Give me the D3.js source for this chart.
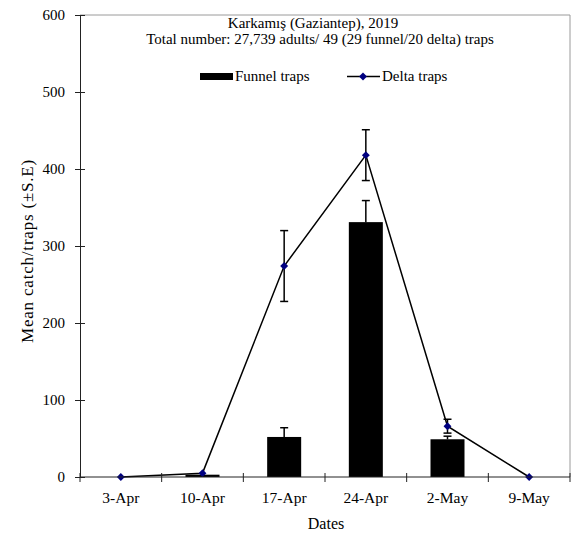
<!DOCTYPE html>
<html>
<head>
<meta charset="utf-8">
<script src="https://cdn.jsdelivr.net/npm/d3@7/dist/d3.min.js"></script>
<style>
  body { margin: 0; background: #fff; }
  svg text { font-family: 'Liberation Serif', 'Times New Roman', serif; fill: #000; }
</style>
</head>
<body>
<svg id="chart" width="571" height="535"></svg>
<script>
const dates = ['3-Apr', '10-Apr', '17-Apr', '24-Apr', '2-May', '9-May'];
const funnelMean = [0, 3, 52, 331, 49, 0];
const funnelSE = [0, 0, 12, 28, 4, 0];
const deltaMean = [0, 5, 274, 418, 66, 0];
const deltaSE = [0, 0, 46, 33, 9, 0];
const yTicks = [0, 100, 200, 300, 400, 500, 600];

const dim = { l: 80, r: 570, t: 15, b: 477 };

const svg = d3.select('#chart');

const x = d3.scaleBand().domain(dates).range([dim.l, dim.r]).padding(0);
const y = d3.scaleLinear().domain([0, 600]).range([dim.b, dim.t]);
const cx = (d) => x(d) + x.bandwidth() / 2;
const barW = 34;

// frame (top + right)
svg.append('path')
  .attr('d', `M${dim.l},${dim.t}H${dim.r}V${dim.b}`)
  .attr('fill', 'none')
  .attr('stroke', '#9a9a9a')
  .attr('stroke-width', 1);

// bars
svg.append('g')
  .selectAll('rect')
  .data(dates)
  .join('rect')
  .attr('x', (d) => cx(d) - barW / 2)
  .attr('width', barW)
  .attr('y', (d, i) => y(funnelMean[i]))
  .attr('height', (d, i) => y(0) - y(funnelMean[i]))
  .attr('fill', '#000');

// funnel error bars (upper only)
const fErr = svg.append('g').attr('stroke', '#000').attr('stroke-width', 1.5);
dates.forEach((d, i) => {
  if (!funnelSE[i]) return;
  const top = y(funnelMean[i] + funnelSE[i]);
  fErr.append('line').attr('x1', cx(d)).attr('x2', cx(d))
    .attr('y1', y(funnelMean[i])).attr('y2', top);
  fErr.append('line').attr('x1', cx(d) - 4).attr('x2', cx(d) + 4)
    .attr('y1', top).attr('y2', top);
});

// delta error bars
const dErr = svg.append('g').attr('stroke', '#000').attr('stroke-width', 1.5);
dates.forEach((d, i) => {
  if (!deltaSE[i]) return;
  const top = y(deltaMean[i] + deltaSE[i]);
  const bot = y(deltaMean[i] - deltaSE[i]);
  dErr.append('line').attr('x1', cx(d)).attr('x2', cx(d)).attr('y1', bot).attr('y2', top);
  [top, bot].forEach((v) => {
    dErr.append('line').attr('x1', cx(d) - 4).attr('x2', cx(d) + 4).attr('y1', v).attr('y2', v);
  });
});

// delta line
const lineGen = d3.line()
  .x((d) => cx(d.date))
  .y((d) => y(d.v));
const deltaData = dates.map((d, i) => ({ date: d, v: deltaMean[i] }));

svg.append('path')
  .attr('d', lineGen(deltaData))
  .attr('fill', 'none')
  .attr('stroke', '#000')
  .attr('stroke-width', 1.5);

const diamond = d3.symbol().type(d3.symbolDiamond2).size(40);
svg.append('g')
  .selectAll('path')
  .data(deltaData)
  .join('path')
  .attr('d', diamond)
  .attr('transform', (d) => `translate(${cx(d.date)},${y(d.v)})`)
  .attr('fill', '#000080');

// axes
const yAxis = svg.append('g')
  .attr('transform', `translate(${dim.l},0)`)
  .call(d3.axisLeft(y).tickValues(yTicks).tickSize(5).tickPadding(10));
yAxis.select('.domain').attr('stroke', '#222');
yAxis.selectAll('line').attr('x1', -5).attr('x2', 5).attr('stroke', '#222');
yAxis.selectAll('text').style('font-size', '15px');

const xAxis = svg.append('g')
  .attr('transform', `translate(0,${dim.b})`)
  .call(d3.axisBottom(x).tickSize(0).tickPadding(15));
xAxis.select('.domain').attr('d', `M${dim.l},0H${dim.r}`).attr('stroke', '#222');
xAxis.selectAll('text').style('font-size', '15.5px');

const bounds = dates.map((d) => x(d)).concat([dim.r]);
xAxis.append('g')
  .selectAll('line')
  .data(bounds)
  .join('line')
  .attr('x1', (d) => d).attr('x2', (d) => d)
  .attr('y1', -4).attr('y2', 5)
  .attr('stroke', '#222');

// titles
svg.append('text').attr('x', 313).attr('y', 28).attr('text-anchor', 'middle')
  .style('font-size', '15px').text('Karkamış (Gaziantep), 2019');
svg.append('text').attr('x', 320).attr('y', 44).attr('text-anchor', 'middle')
  .style('font-size', '15px').text('Total number: 27,739 adults/ 49 (29 funnel/20 delta) traps');

// legend
const legend = svg.append('g');
legend.append('rect').attr('x', 200).attr('y', 73).attr('width', 33).attr('height', 7).attr('fill', '#000');
legend.append('text').attr('x', 235).attr('y', 81).style('font-size', '15px').text('Funnel traps');
legend.append('line').attr('x1', 347).attr('x2', 380).attr('y1', 76.5).attr('y2', 76.5)
  .attr('stroke', '#000').attr('stroke-width', 1.5);
legend.append('path').attr('d', diamond).attr('transform', 'translate(363,76.5)').attr('fill', '#000080');
legend.append('text').attr('x', 382).attr('y', 81).style('font-size', '15px').text('Delta traps');

// axis labels
svg.append('text').attr('x', 326).attr('y', 529).attr('text-anchor', 'middle')
  .style('font-size', '16px').text('Dates');
svg.append('text')
  .attr('transform', 'translate(33,251) rotate(-90)')
  .attr('text-anchor', 'middle')
  .style('font-size', '17px')
  .style('letter-spacing', '0.8px')
  .text('Mean catch/traps (±S.E)');
</script>
</body>
</html>
